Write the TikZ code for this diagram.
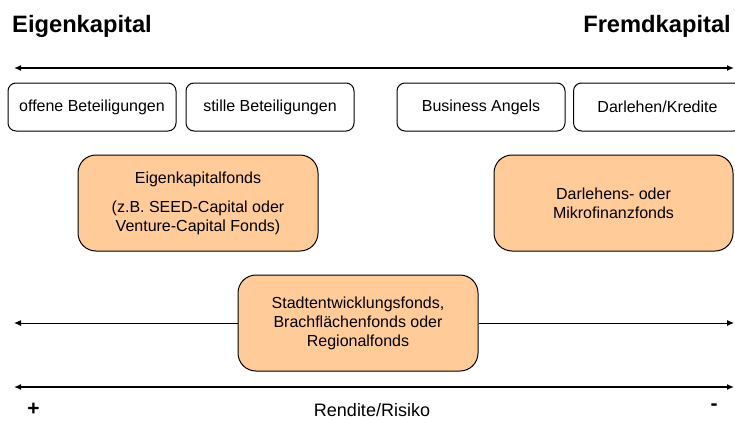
\documentclass[tikz,border=0pt]{standalone}
\usepackage{fontspec}
\setmainfont{Liberation Sans}
\usetikzlibrary{arrows.meta}
\definecolor{fillorange}{RGB}{255,204,153}
\begin{document}
\begin{tikzpicture}[x=1pt,y=-1pt,
  every node/.style={font=\fontsize{16}{19}\selectfont},
  wbox/.style={draw, line width=1pt, rounded corners=8pt, fill=white, minimum height=48pt, minimum width=168pt, inner sep=0pt},
  obox/.style={draw, line width=1pt, rounded corners=18pt, fill=fillorange, minimum height=96pt, align=center, inner sep=0pt},
  thickarr/.style={line width=2pt, {Latex[length=7pt,width=6pt]}-{Latex[length=7pt,width=6pt]}},
  thinarr/.style={line width=1pt, -{Latex[length=7pt,width=6pt]}},
  title/.style={font=\fontsize{23.7}{28}\selectfont\bfseries, inner sep=0pt},
  sign/.style={font=\fontsize{21}{24}\selectfont\bfseries, inner sep=0pt}
]
\useasboundingbox (0,0) rectangle (735,420);

% titles
\node[title, anchor=base west] (ek) at (12,33) {Eigenkapital};
\node[title, anchor=base east] (fk) at (731,33) {Fremdkapital};

% top arrow
\coordinate (tl) at (14,68);
\coordinate (tr) at (734,68);
\draw[thickarr] (tl) -- (tr);

% top boxes
\node[wbox] (b1) at (92,107) {offene Beteiligungen};
\node[wbox] (b2) at (270,107) {stille Beteiligungen};
\node[wbox] (b3) at (481,107) {Business Angels};
\node[wbox, anchor=west, inner xsep=0pt] (b4) at (573,107) {\makebox[162pt]{Darlehen/Kredite}\hspace{12pt}};

% orange boxes
\node[obox, minimum width=240pt] (ekf) at (198,203)
  {Eigenkapitalfonds\\[10pt](z.B. SEED-Capital oder\\Venture-Capital Fonds)};
\node[obox, minimum width=239pt] (df) at (613.5,203)
  {Darlehens- oder\\Mikrofinanzfonds};
\node[obox, minimum width=240pt] (sf) at (358,323)
  {Stadtentwicklungsfonds,\\Brachfl\"achenfonds oder\\Regionalfonds};

% middle arrows
\coordinate (ml) at (14,323);
\coordinate (mr) at (734,323);
\draw[thinarr] (sf.west) -- (ml);
\draw[thinarr] (sf.east) -- (mr);

% bottom arrow
\coordinate (bl) at (14,387);
\coordinate (br) at (734,387);
\draw[thickarr] (bl) -- (br);

% bottom labels
\node[sign] (plus) at (33.5,409) {+};
\node[sign] (minus) at (714,407) {-};
\node[inner sep=0pt, font=\fontsize{18}{21}\selectfont] (rr) at (372,410) {Rendite/Risiko};
\end{tikzpicture}
\end{document}
